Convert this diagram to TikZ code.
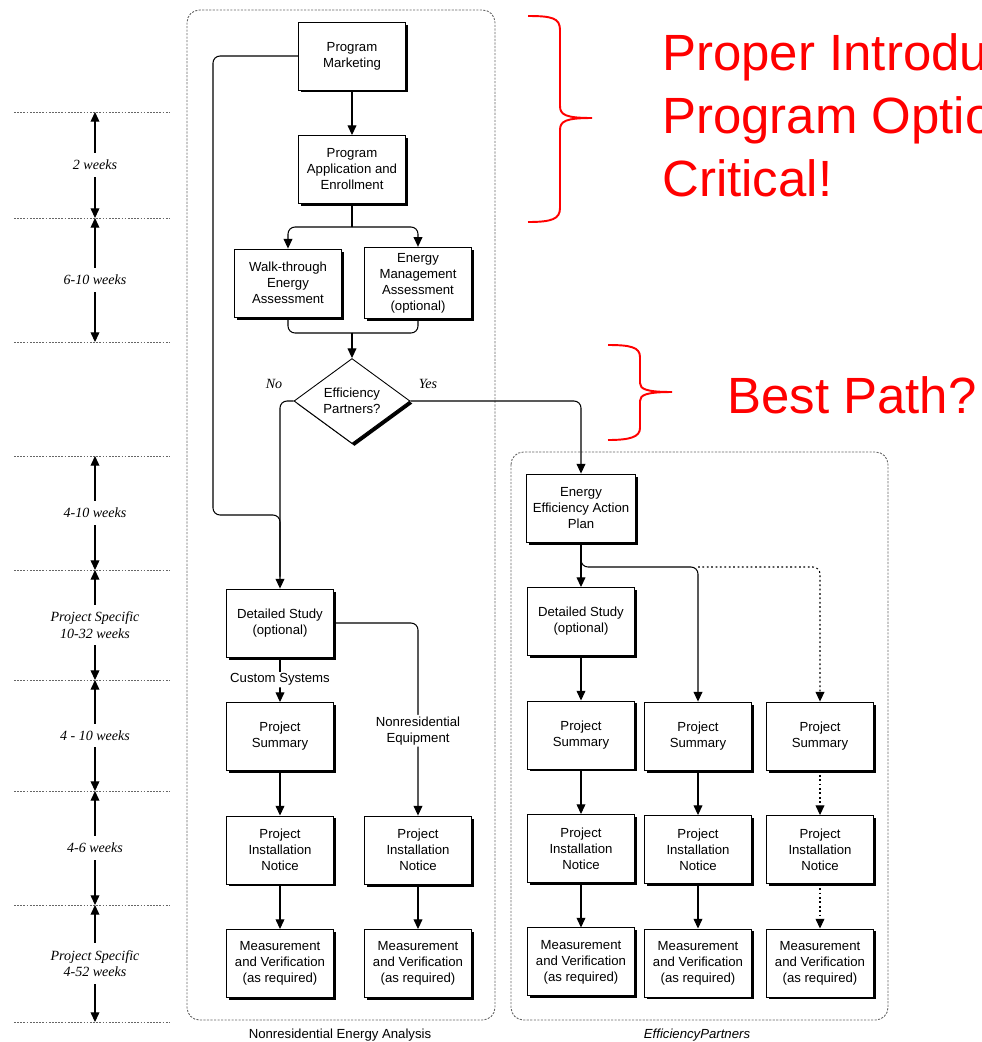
\documentclass[tikz,border=0pt]{standalone}
\usepackage{fontspec}
\setmainfont{Liberation Sans}
\newfontfamily\durfont{Liberation Serif}
\usetikzlibrary{shapes.geometric, arrows.meta, positioning, shadows, calc}
\tikzstyle{std} = [rectangle, minimum width=2.14cm, minimum height=1.36cm, align=center, draw=black, line width=0.5pt, fill=white, font=\fontsize{7.5}{9.1}\selectfont, drop shadow={shadow xshift=0.05cm, shadow yshift=-0.05cm, fill=black, opacity=1}]
\tikzstyle{decision} = [diamond, aspect=1.35, minimum width=2.32cm, minimum height=1.7cm, inner sep=0pt, align=center, draw=black, line width=0.5pt, fill=white, font=\fontsize{7.5}{9.1}\selectfont, drop shadow={shadow xshift=0.05cm, shadow yshift=-0.05cm, fill=black, opacity=1}]
\tikzstyle{wire} = [line width=0.6pt, rounded corners=4pt]
\tikzstyle{arrow} = [wire, -{Triangle[length=5.5pt,width=5pt]}]
\tikzstyle{dotarrow} = [arrow, dash pattern=on 1pt off 1.5pt]
\tikzstyle{lane} = [draw=black!60, dash pattern=on 1.2pt off 0.8pt, rounded corners=0.25cm, line width=0.5pt]
\tikzstyle{gridline} = [black!60, dash pattern=on 1pt off 0.8pt, line width=0.5pt]
\tikzstyle{period} = [line width=0.6pt, {Triangle[length=5.5pt,width=5pt]}-{Triangle[length=5.5pt,width=5pt]}]
\tikzstyle{dur} = [fill=white, inner xsep=1pt, inner ysep=4pt, align=center, font=\durfont\itshape\fontsize{8}{9.5}\selectfont]
\tikzstyle{lbl} = [fill=white, inner sep=1pt, align=center, font=\fontsize{7.5}{9.1}\selectfont]
\tikzstyle{yesno} = [font=\durfont\itshape\fontsize{8}{9.5}\selectfont]
\tikzstyle{remark} = [red, anchor=north west, inner sep=0pt, align=left, font=\fontsize{29}{36}\selectfont]
\tikzstyle{bracket} = [red, line width=1.1pt]

\begin{document}
\begin{tikzpicture}[x=0.02cm, y=-0.02cm, node distance=2.27cm]
      \useasboundingbox (0,0) rectangle (982,1042);

      % time scale
      \foreach \y [count=\i] in {112,218,342,456,570,680,791,905,1022} {
        \draw[gridline] (14,\y) -- (170,\y);
        \coordinate (t\i) at (95,\y);
      }
      \draw[period] (t1) -- node[dur] {2 weeks} (t2);
      \draw[period] (t2) -- node[dur] {6-10 weeks} (t3);
      \draw[period] (t4) -- node[dur] {4-10 weeks} (t5);
      \draw[period] (t5) -- node[dur] {Project Specific\\10-32 weeks} (t6);
      \draw[period] (t6) -- node[dur] {4 - 10 weeks} (t7);
      \draw[period] (t7) -- node[dur] {4-6 weeks} (t8);
      \draw[period] (t8) -- node[dur] {Project Specific\\4-52 weeks} (t9);

      % swim lanes
      \draw[lane] (187,10) rectangle (495,1020);
      \draw[lane] (511,452) rectangle (888,1020);
      \node (nea) [lbl, fill=none] at (340,1035) {Nonresidential Energy Analysis};
      \node (ep) [lbl, fill=none, font=\itshape\fontsize{7.5}{9.1}\selectfont] at (697,1035) {EfficiencyPartners};

      \node (mkt) [std] at (352,56) {Program\\Marketing};
      \node (app) [std, below of=mkt] {Program\\Application and\\Enrollment};
      \node (walk) [std] at (288,283) {Walk-through\\Energy\\Assessment};
      \node (ema) [std] at (418,283) {Energy\\Management\\Assessment\\(optional)};
      \node (eff) [decision] at (352,401) {Efficiency\\Partners?};
      \node (no) [yesno] at (274,384) {No};
      \node (yes) [yesno] at (428,384) {Yes};

      \node (dsL) [std] at (280,623) {Detailed Study\\(optional)};
      \node (psL) [std, below of=dsL] {Project\\Summary};
      \node (pinL) [std, below of=psL] {Project\\Installation\\Notice};
      \node (mvL) [std, below of=pinL] {Measurement\\and Verification\\(as required)};
      \node (pinR) [std] at (418,850) {Project\\Installation\\Notice};
      \node (mvR) [std, below of=pinR] {Measurement\\and Verification\\(as required)};

      \node (plan) [std] at (581,508) {Energy\\Efficiency Action\\Plan};
      \node (dsE) [std, below of=plan] {Detailed Study\\(optional)};
      \node (ps1) [std, below of=dsE] {Project\\Summary};
      \node (pin1) [std, below of=ps1] {Project\\Installation\\Notice};
      \node (mv1) [std, below of=pin1] {Measurement\\and Verification\\(as required)};
      \node (ps2) [std] at (698,736) {Project\\Summary};
      \node (pin2) [std, below of=ps2] {Project\\Installation\\Notice};
      \node (mv2) [std, below of=pin2] {Measurement\\and Verification\\(as required)};
      \node (ps3) [std] at (820,736) {Project\\Summary};
      \node (pin3) [std, below of=ps3] {Project\\Installation\\Notice};
      \node (mv3) [std, below of=pin3] {Measurement\\and Verification\\(as required)};

      \coordinate (split) at (352,227);
      \coordinate (merge) at (352,333);
      \coordinate (loop) at (213,515);
      \coordinate (fork) at (581,567);

      \draw [arrow] (mkt) -- (app);
      \draw [wire] (app) -- (split);
      \draw [arrow] (split) -| (walk);
      \draw [arrow] (split) -| (ema);
      \draw [wire] (walk) |- (merge);
      \draw [wire] (ema) |- (merge);
      \draw [arrow] (merge) -- (eff);
      \draw [arrow] (eff.west) -| (dsL);
      \draw [wire] (mkt.west) -| (loop) -| ($(dsL.north)+(0,-12)$);
      \draw [arrow] (eff.east) -| (plan);
      \draw [arrow] (dsL) -- node[lbl] {Custom Systems} (psL);
      \draw [arrow] (dsL.east) -| node[lbl, pos=0.78] {Nonresidential\\Equipment} (pinR);
      \draw [arrow] (psL) -- (pinL);
      \draw [arrow] (pinL) -- (mvL);
      \draw [arrow] (pinR) -- (mvR);

      \draw [arrow] (plan) -- (dsE);
      \draw [arrow] (plan.south) -- (fork) -| (ps2);
      \draw [dotarrow] (ps2 |- fork) -| (ps3);
      \draw [arrow] (dsE) -- (ps1);
      \draw [arrow] (ps1) -- (pin1);
      \draw [arrow] (pin1) -- (mv1);
      \draw [arrow] (ps2) -- (pin2);
      \draw [arrow] (pin2) -- (mv2);
      \draw [dotarrow] (ps3) -- (pin3);
      \draw [dotarrow] (pin3) -- (mv3);

      % notes
      \draw [bracket] (528,16) .. controls (552,16) and (560,18) .. (560,30) -- (560,106) .. controls (560,115) and (566,118) .. (592,118) .. controls (566,118) and (560,121) .. (560,130) -- (560,208) .. controls (560,219) and (552,222) .. (528,222);
      \draw [bracket] (608,345) .. controls (630,345) and (640,347) .. (640,357) -- (640,383) .. controls (640,389) and (646,392) .. (672,392) .. controls (646,392) and (640,395) .. (640,401) -- (640,428) .. controls (640,437) and (630,440) .. (608,440);
      \node (intro) [remark] at (662,33) {Proper Introdu\\Program Optio\\Critical!};
      \node (best) [remark] at (727,376) {Best Path?};
    \end{tikzpicture}
\end{document}
